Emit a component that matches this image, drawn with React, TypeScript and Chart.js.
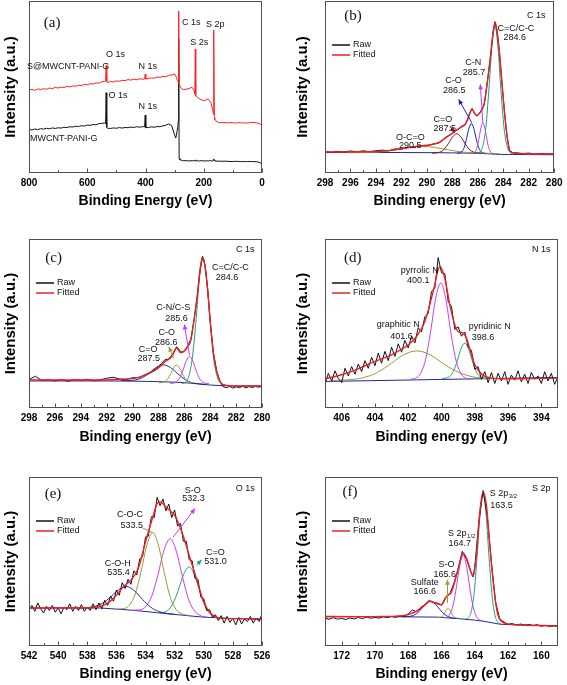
import React, { useEffect, useRef } from "react";
import { Chart, registerables } from "chart.js";
Chart.register(...registerables);

type Pt = [number, number];

// ---------------- (a) survey ----------------
const A_TICKS = [800, 600, 400, 200, 0];
const A_E = [800,790,780,770,760,750,740,730,720,710,700,690,680,670,660,650,640,630,620,610,600,590,580,570,560,550,540,537,535,533,530,520,510,500,490,480,470,460,450,440,430,420,410,403,401,399,390,380,370,360,350,340,330,320,310,300,296,292,289,287.5,286,284.5,282,276,270,260,250,240,235,232,230.5,229,227.5,226,222,215,210,200,190,185,180,175,170,168,166.5,165,163.5,162,158,150,140,130,120,110,100,90,80,70,60,50,40,30,20,10,0];
const A_RED = [48.1,48.6,48.0,48.9,48.5,49.0,48.7,49.4,49.0,49.8,49.4,50.0,49.7,50.3,50.1,50.6,50.4,51.0,50.8,51.5,51.3,51.9,51.7,52.4,52.2,53.0,53.3,
  53.6,62.5,53.0,
  52.6,53.2,52.9,53.6,53.3,53.9,53.7,54.3,54.0,54.6,54.2,54.8,54.5,
  54.7,57.5,54.6,
  55.0,55.3,55.1,55.8,55.6,56.2,56.0,56.8,57.0,57.6,
  56.5,54.5,53.5,53.0,94.2,50.8,50.5,
  49.0,48.5,48.7,49.2,49.8,48.5,47.0,46.0,72.1,45.0,44.6,44.0,43.2,42.6,42.2,42.5,43.2,42.0,40.5,37.0,35.5,34.0,83.1,32.0,31.0,30.3,
  29.4,29.2,29.4,29.1,29.3,29.2,29.0,29.3,29.1,29.2,29.0,29.3,29.4,29.2,28.8,27.8];
const A_BLACK = [25.4,25.0,25.6,25.2,25.8,25.5,26.0,25.7,26.2,25.9,26.3,26.1,26.6,26.4,26.9,26.7,27.2,27.0,27.5,27.3,27.8,27.7,28.2,28.0,28.7,28.9,29.0,
  28.6,46.7,26.5,
  26.0,25.9,26.2,26.0,26.4,26.1,26.5,26.3,26.7,26.5,26.9,26.6,27.0,
  26.8,33.7,26.3,
  26.5,26.8,26.6,27.0,26.9,27.4,27.8,28.5,27.6,22.0,
  20.3,24.0,27.0,30.0,78.0,8.5,7.7,
  7.4,7.1,7.2,7.0,7.2,7.1,7.0,7.2,7.6,7.1,7.0,7.1,7.0,7.2,7.0,7.1,7.0,7.2,7.1,7.0,7.2,7.4,8.2,7.3,7.0,6.9,
  6.9,6.8,6.9,6.8,6.7,6.7,6.8,6.7,6.6,6.7,6.6,6.7,6.6,6.6,6.2,5.4];

// ---------------- (b) C 1s ----------------
const B_TICKS = [298, 296, 294, 292, 290, 288, 286, 284, 282, 280];
const B_FIT_E = [298,296,294,293,292,291,290,289.5,289,288.5,288,287.5,287,286.8,286.6,286.45,286.25,286.05,285.8,285.5,285.25,285.0,284.8,284.65,284.5,284.3,284.1,283.9,283.7,283.5,283.2,283,282,280];
const B_FIT = [12.2,12.3,12.5,13.0,14.1,15.3,16.1,16.7,18.0,20.5,23.1,25.8,28.3,31.0,35.0,37.0,34.8,33.5,35.2,40.0,52.5,68.0,81.6,87.4,83.5,70.0,52.5,35.0,21.5,12.8,11.8,11.5,11.2,11.0];
const B_RAW_E = [298,297.5,297,296.5,296,295.5,295,294.5,294,293.5,293,292.5,292,291.5,291,290.5,290,289.5,289,288.5,288,287.75,287.5,287.25,287,286.8,286.6,286.45,286.25,286.05,285.8,285.5,285.25,285,284.8,284.65,284.5,284.3,284.1,283.9,283.7,283.5,283.2,283,282.5,282,281.5,281,280.5,280];
const B_RAW = [12.4,12.0,12.6,12.2,12.8,12.3,12.9,12.4,12.9,13.3,12.9,14.0,13.8,15.0,14.9,16.0,15.8,16.9,17.6,20.9,22.8,24.8,25.5,27.4,28.0,31.4,35.4,37.6,34.4,33.0,35.6,39.6,53.0,67.5,82.0,88.0,83.0,70.5,52.0,35.5,21.0,13.2,11.5,11.8,11.2,11.6,11.0,11.4,11.1,11.3];
const B_BG: Pt[] = [[298,12.0],[292,11.9],[289,11.8],[288,11.7],[287,11.6],[286.5,11.5],[286,11.4],[285.5,11.3],[285,11.1],[284.6,10.9],[284.2,10.8],[283.5,10.8],[282,10.7],[280,10.6]];
const B_CC: Pt[] = [[286.08,11.35],[285.84,12.2],[285.6,15.8],[285.36,26.7],[285.13,48.2],[284.89,73.3],[284.65,85.0],[284.41,73.2],[284.18,48.0],[283.94,26.5],[283.7,15.6],[283.46,12.0],[283.23,11.15]];
const B_CN: Pt[] = [[286.5,11.24],[286.35,11.44],[286.2,12.3],[286.05,15.0],[285.9,20.2],[285.75,26.3],[285.6,29.2],[285.45,26.3],[285.3,20.2],[285.15,15.0],[285.0,12.3],[284.85,11.4],[284.7,11.2]];
const B_CO: Pt[] = [[287.63,11.45],[287.44,11.63],[287.25,12.5],[287.06,15.0],[286.88,20.05],[286.69,25.95],[286.5,28.7],[286.31,25.95],[286.13,20.05],[285.94,15.0],[285.75,12.5],[285.56,11.6],[285.38,11.4]];
const B_CDO: Pt[] = [[289.6,11.52],[289.28,11.65],[288.95,12.2],[288.63,13.87],[288.3,17.15],[287.98,21.0],[287.65,22.8],[287.33,21.0],[287.0,17.15],[286.68,13.87],[286.35,12.2],[286.03,11.65],[285.7,11.5]];
const B_OCO: Pt[] = [[296.3,11.8],[295.3,11.85],[294.3,12.0],[293.3,12.55],[292.3,13.6],[291.3,14.85],[290.3,15.4],[289.3,14.75],[288.3,13.4],[287.3,12.3],[286.3,11.7],[285.3,11.5],[284.3,11.2]];

// ---------------- (c) C 1s ----------------
const C_FIT_E = [298,292,291,290,289,288.5,288,287.5,287,286.75,286.6,286.3,286,285.75,285.5,285.25,285,284.8,284.6,284.4,284.2,284,283.75,283.5,283.25,283,282,280];
const C_FIT = [16.6,16.6,17.0,17.4,19.4,21.3,23.7,27.3,30.2,33.6,35.6,32.8,33.6,36.2,40.1,52.0,66.0,81.0,89.3,84.0,70.0,51.0,32.0,21.5,16.0,13.8,13.0,13.0];
const C_RAW_E = [298,297.5,297,296.5,296,295.5,295,294.5,294,293.5,293,292.5,292,291.5,291,290.5,290,289.5,289,288.5,288,287.75,287.5,287.25,287,286.75,286.6,286.45,286.3,286.1,285.9,285.75,285.5,285.25,285,284.8,284.6,284.4,284.2,284,283.75,283.5,283.25,283,282.75,282.5,282.25,282,281.75,281.5,281.25,281,280.75,280.5,280.25,280];
const C_RAW = [16.8,18.8,16.2,16.8,16.0,16.9,15.8,16.9,16.3,17.0,16.1,16.6,17.6,18.2,17.1,16.9,17.9,18.0,19.8,21.6,24.5,26.5,28.5,28.9,30.8,34.0,36.2,35.2,33.1,33.3,34.9,36.6,40.5,52.3,66.5,81.0,89.8,84.2,70.5,51.5,32.5,22.0,15.8,12.6,12.0,12.8,11.8,12.6,12.0,12.9,11.9,12.7,12.1,12.8,12.3,12.9];
const C_BG: Pt[] = [[298,16.0],[292,16.0],[290,15.9],[288,15.6],[286.5,15.2],[285.5,14.7],[285,14.3],[284.5,13.9],[284,13.6],[283,13.2],[282,13.0],[280,13.0]];
const C_CC: Pt[] = [[286.2,14.35],[285.93,15.2],[285.65,18.9],[285.38,29.8],[285.1,51.45],[284.83,76.9],[284.55,88.6],[284.28,76.3],[284.0,50.85],[283.73,29.2],[283.45,18.3],[283.18,14.6],[282.9,13.75]];
const C_CN: Pt[] = [[287.1,14.55],[286.85,14.7],[286.6,15.5],[286.35,17.86],[286.1,22.5],[285.85,27.96],[285.6,30.5],[285.35,27.9],[285.1,22.4],[284.85,17.8],[284.6,15.4],[284.35,14.6],[284.1,14.4]];
const C_CO: Pt[] = [[287.95,15.0],[287.73,15.15],[287.5,15.65],[287.28,17.2],[287.05,20.25],[286.83,23.8],[286.6,25.5],[286.38,23.8],[286.15,20.25],[285.93,17.2],[285.7,15.6],[285.48,15.1],[285.25,14.9]];
const C_CDO: Pt[] = [[290.9,16.22],[290.35,16.23],[289.8,16.6],[289.25,17.9],[288.7,20.75],[288.15,24.05],[287.6,25.5],[287.05,23.8],[286.5,20.2],[285.95,16.9],[285.4,14.9],[284.85,14.3],[284.3,13.9]];

// ---------------- (d) N 1s ----------------
const D_TICKS = [406, 404, 402, 400, 398, 396, 394];
const D_FIT_E = [407,406,405,404,403,402,401.5,401,400.5,400.1,399.8,399.5,399.2,399,398.7,398.5,398.2,398,397.5,397,396,393];
const D_FIT = [17.3,19.7,23.2,27.6,31.5,37.4,42.3,51.2,68.9,83.7,76.8,61.0,49.2,45.3,44.3,41.3,31.5,25.6,19.3,17.7,17.3,17.7];
const D_RAW_E = [407,406.8,406.6,406.4,406.2,406,405.8,405.6,405.4,405.2,405,404.8,404.6,404.4,404.2,404,403.8,403.6,403.4,403.2,403,402.8,402.6,402.4,402.2,402,401.8,401.6,401.4,401.2,401,400.8,400.6,400.4,400.2,400,399.8,399.6,399.4,399.2,399,398.8,398.6,398.4,398.2,398,397.8,397.6,397.4,397.2,397,396.8,396.6,396.4,396.2,396,395.8,395.6,395.4,395.2,395,394.8,394.6,394.4,394.2,394,393.8,393.6,393.4,393.2,393];
const D_RAW = [14.0,20.5,16.0,22.0,17.5,15.0,23.5,19.0,24.5,20.0,26.0,21.5,28.0,23.5,30.0,25.0,32.5,26.5,33.5,28.0,36.0,30.5,38.0,33.0,40.0,35.5,42.5,38.5,47.5,45.0,54.0,56.0,69.0,71.0,89.0,80.0,79.5,63.0,60.0,46.5,48.0,42.5,45.0,36.0,34.0,23.0,24.5,17.0,21.5,15.0,21.0,14.5,20.5,16.0,21.5,14.0,19.5,16.5,22.0,15.5,20.0,14.5,21.0,17.0,19.0,14.5,21.5,16.0,20.5,14.0,18.5];
const D_BG: Pt[] = [[407,15.7],[393,18.1]];
const D_PYRR: Pt[] = [[401.85,17.1],[401.55,17.7],[401.25,20.55],[400.95,28.95],[400.65,45.5],[400.35,64.9],[400.05,74.0],[399.75,64.9],[399.45,45.5],[399.15,29.0],[398.85,20.6],[398.55,17.8],[398.25,17.2]];
const D_GRAPH: Pt[] = [[406.6,16.33],[405.75,16.6],[404.9,17.5],[404.05,20.1],[403.2,25.1],[402.35,31.1],[401.5,33.8],[400.65,31.3],[399.8,25.6],[398.95,21.0],[398.1,18.4],[397.25,17.6],[396.4,17.4]];
const D_PYRI: Pt[] = [[399.95,17.44],[399.73,17.68],[399.5,18.7],[399.28,21.8],[399.05,27.9],[398.83,35.06],[398.6,38.4],[398.38,35.06],[398.15,27.9],[397.93,21.8],[397.7,18.7],[397.48,17.7],[397.25,17.45]];

// ---------------- (e) O 1s ----------------
const E_TICKS = [542, 540, 538, 536, 534, 532, 530, 528, 526];
const E_FIT_E = [542,538,537,536.5,536,535.5,535,534.5,534,533.5,533.2,533,532.5,532,531.5,531,530.5,530,529.5,529,528,526];
const E_FIT = [22.5,22.6,23.7,26.0,30.0,35.3,38.9,45.8,61.5,76.3,84.2,85.2,81.3,77.3,67.5,53.6,39.8,26.0,19.1,16.8,16.2,16.2];
const E_RAW_E = [542,541.8,541.6,541.4,541.2,541,540.8,540.6,540.4,540.2,540,539.8,539.6,539.4,539.2,539,538.8,538.6,538.4,538.2,538,537.8,537.6,537.4,537.2,537,536.8,536.6,536.4,536.2,536,535.8,535.6,535.4,535.2,535,534.8,534.6,534.4,534.2,534,533.8,533.6,533.4,533.2,533,532.8,532.6,532.4,532.2,532,531.8,531.6,531.4,531.2,531,530.8,530.6,530.4,530.2,530,529.8,529.6,529.4,529.2,529,528.8,528.6,528.4,528.2,528,527.8,527.6,527.4,527.2,527,526.8,526.6,526.4,526.2,526];
const E_RAW = [21.0,24.0,20.5,25.5,22.0,19.5,23.5,21.0,24.0,20.0,22.5,19.0,23.0,21.5,25.0,20.5,23.5,21.0,24.5,20.5,23.0,21.0,25.0,21.5,25.5,22.0,27.0,24.0,29.5,26.5,33.0,30.0,37.5,34.0,39.5,36.5,44.5,42.0,51.5,53.0,64.5,65.0,76.5,76.0,88.0,83.0,87.0,80.0,84.0,76.0,80.5,71.0,72.5,62.0,62.0,51.0,50.5,40.0,39.5,29.0,28.0,21.0,21.5,17.0,18.5,15.0,18.0,13.5,17.5,14.0,16.5,12.5,17.0,13.0,16.0,14.5,17.5,13.5,16.5,14.5,19.0];
const E_BG: Pt[] = [[542,22.5],[537.1,22.5],[534.8,21.1],[532.5,19.1],[530.2,17.2],[528,16.2],[526,15.8]];
const E_COH: Pt[] = [[538.6,22.53],[538.05,22.68],[537.5,23.36],[536.95,25.3],[536.4,29.0],[535.85,33.3],[535.3,35.2],[534.75,32.6],[534.2,27.5],[533.65,23.0],[533.1,20.46],[532.55,19.28],[532.0,18.73]];
const E_COC: Pt[] = [[535.9,21.9],[535.5,22.1],[535.1,24.2],[534.7,30.9],[534.3,44.2],[533.9,59.9],[533.5,67.1],[533.1,59.2],[532.7,42.9],[532.3,28.9],[531.9,21.6],[531.5,19.0],[531.1,18.2]];
const E_SO: Pt[] = [[534.85,21.2],[534.43,21.3],[534.0,23.2],[533.58,29.35],[533.15,41.95],[532.73,56.7],[532.3,63.5],[531.88,56.0],[531.45,40.55],[531.03,27.25],[530.6,20.4],[530.18,17.8],[529.75,17.0]];
const E_CO: Pt[] = [[533.25,19.86],[532.88,19.8],[532.5,20.9],[532.13,24.9],[531.75,32.9],[531.38,42.5],[531.0,46.8],[530.63,41.9],[530.25,31.7],[529.88,23.0],[529.5,18.5],[529.13,16.9],[528.75,16.36]];

// ---------------- (f) S 2p ----------------
const F_TICKS = [172, 170, 168, 166, 164, 162, 160];
const F_FIT_E = [173,170,168.5,168,167.5,167,166.7,166.3,166,165.7,165.4,165.2,165,164.7,164.5,164.2,164.1,163.9,163.7,163.5,163.3,163.1,162.9,162.7,162.5,162,161,159];
const F_FIT = [17.3,17.4,17.8,18.6,20.6,24.1,26.5,25.1,24.5,29.4,32.0,38.2,45.1,54.9,52.0,43.1,41.2,53.9,79.4,91.2,83.3,59.8,38.2,22.5,15.7,13.1,12.4,11.8];
const F_RAW_E = [173,172.75,172.5,172.25,172,171.75,171.5,171.25,171,170.75,170.5,170.25,170,169.75,169.5,169.25,169,168.75,168.5,168.25,168,167.75,167.5,167.25,167,166.75,166.5,166.25,166,165.75,165.5,165.25,165,164.75,164.5,164.25,164.1,164,163.75,163.5,163.25,163,162.75,162.5,162.25,162,161.75,161.5,161.25,161,160.75,160.5,160.25,160,159.75,159.5,159.25,159];
const F_RAW = [16.5,15.8,16.8,15.9,16.3,15.7,16.6,16.0,16.9,16.2,17.1,16.4,16.9,16.5,17.3,16.8,17.5,17.0,17.8,17.6,19.0,21.3,20.2,22.8,24.5,26.9,25.6,25.4,24.1,29.0,30.8,37.2,45.8,56.0,51.5,44.0,40.8,47.0,73.8,92.0,76.8,49.5,26.0,16.0,14.2,12.8,13.3,12.4,13.0,12.2,12.8,12.0,12.6,11.6,12.3,11.5,12.1,11.7];
const F_BG: Pt[] = [[173,17.6],[166.3,17.1],[165,16.2],[164,15.3],[163.5,14.7],[162.5,12.9],[161,12.3],[159,12.0]];
const F_S32: Pt[] = [[164.58,15.95],[164.4,16.6],[164.22,20.1],[164.04,31.2],[163.86,52.85],[163.68,78.4],[163.5,90.2],[163.32,77.8],[163.14,51.75],[162.96,29.5],[162.78,18.0],[162.6,13.9],[162.42,12.85]];
const F_S12: Pt[] = [[165.9,16.8],[165.7,17.0],[165.5,18.8],[165.3,24.3],[165.1,35.1],[164.9,47.9],[164.7,53.7],[164.5,47.5],[164.3,34.3],[164.1,23.2],[163.9,17.4],[163.7,15.4],[163.5,14.8]];
const F_SO: Pt[] = [[166.2,16.9],[166.1,16.95],[166.0,17.2],[165.9,18.0],[165.8,19.55],[165.7,21.4],[165.6,22.3],[165.5,21.3],[165.4,19.45],[165.3,17.8],[165.2,16.9],[165.1,16.6],[165.0,16.4]];
const F_SULF: Pt[] = [[168.3,17.3],[168.03,17.4],[167.75,17.9],[167.48,19.3],[167.2,22.0],[166.93,25.2],[166.65,26.5],[166.38,24.9],[166.1,21.6],[165.83,18.8],[165.55,17.2],[165.28,16.5],[165.0,16.2]];

// ---------------- styling ----------------
const SANS = '"Liberation Sans", Arial, Helvetica, sans-serif';
const SERIF = '"Liberation Serif", "Times New Roman", serif';
const RED = "#ee1f26";
const BLACK = "#111111";
const NAVY = "#25259a";
const GREEN = "#1d9f7c";
const MAGENTA = "#c43cf2";
const OLIVE = "#8f9d36";
const BLUE = "#1c1cc8";
const MAROON = "#7d1026";

type Ann = { text: string; x: number; y: number; sub?: string; serif?: boolean };
type Arrow = { from: Pt; to: Pt; color: string; head: boolean };
type Ser = { pts: Pt[]; color: string; width: number; smooth: boolean };
type PanelCfg = {
  key: string; left: number; top: number; width: number; height: number;
  padTop: number; padBottom: number; padRight: number; yW: number; yTitlePad: number;
  axisH: number; xTitlePad: number; min: number; max: number; ticks: number[]; minorStep: number;
  xTitle: string; series: Ser[]; anns: Ann[]; arrows: Arrow[]; legend: boolean;
};

const zip = (e: number[], v: number[]): Pt[] => e.map((x, i) => [x, v[i]] as Pt);
const comp = (pts: Pt[], color: string): Ser => ({ pts, color, width: 1, smooth: true });
const fitS = (e: number[], v: number[]): Ser => ({ pts: zip(e, v), color: RED, width: 1.4, smooth: true });
const rawS = (e: number[], v: number[]): Ser => ({ pts: zip(e, v), color: BLACK, width: 1, smooth: false });

const ROW = [
  { top: 0, height: 225, padTop: 1, axisH: 40, padBottom: 12, xTitlePad: 3 },
  { top: 225, height: 230, padTop: 14, axisH: 40, padBottom: 7, xTitlePad: 2 },
  { top: 455, height: 230, padTop: 22, axisH: 39, padBottom: 0, xTitlePad: 2.5 },
];
const COL = [
  { left: 0, width: 283, yW: 29, padRight: 21, yTitlePad: 2 },
  { left: 283, width: 284, yW: 42, padRight: 9, yTitlePad: 11 },
];

const PANELS: PanelCfg[] = [
  {
    key: "a", ...ROW[0], ...COL[0], min: 0, max: 800, ticks: A_TICKS, minorStep: 100,
    xTitle: "Binding Energy (eV)", legend: false,
    series: [
      { pts: zip(A_E, A_RED), color: "#ff1f1f", width: 1, smooth: false },
      { pts: zip(A_E, A_BLACK), color: BLACK, width: 1, smooth: false },
    ],
    anns: [
      { text: "(a)", x: 720.8, y: 86.9, serif: true },
      { text: "C 1s", x: 243.3, y: 87.5 },
      { text: "S 2p", x: 160.7, y: 86.2 },
      { text: "S 2s", x: 215.8, y: 76 },
      { text: "O 1s", x: 502.7, y: 68.7 },
      { text: "N 1s", x: 392.5, y: 61.9 },
      { text: "S@MWCNT-PANI-G", x: 665.7, y: 62.1 },
      { text: "O 1s", x: 494.7, y: 45.2 },
      { text: "N 1s", x: 392.5, y: 38.5 },
      { text: "MWCNT-PANI-G", x: 680.6, y: 20.2 },
    ],
    arrows: [],
  },
  {
    key: "b", ...ROW[0], ...COL[1], min: 280, max: 298, ticks: B_TICKS, minorStep: 1,
    xTitle: "Binding energy (eV)", legend: true,
    series: [
      fitS(B_FIT_E, B_FIT), rawS(B_RAW_E, B_RAW),
      comp(B_CC, GREEN), comp(B_CN, MAGENTA), comp(B_CO, BLUE), comp(B_CDO, MAROON), comp(B_OCO, OLIVE),
      { pts: B_BG, color: NAVY, width: 1, smooth: false },
    ],
    anns: [
      { text: "(b)", x: 295.8, y: 91.3, serif: true },
      { text: "C 1s", x: 281.4, y: 91.3 },
      { text: "C=C/C-C", x: 283.0, y: 84.1 }, { text: "284.6", x: 283.1, y: 78.7 },
      { text: "C-N", x: 286.35, y: 64.5 }, { text: "285.7", x: 286.3, y: 58.7 },
      { text: "C-O", x: 287.9, y: 53.5 }, { text: "286.5", x: 287.85, y: 48.1 },
      { text: "C=O", x: 288.75, y: 31.2 }, { text: "287.5", x: 288.6, y: 26 },
      { text: "O-C=O", x: 291.3, y: 20.9 }, { text: "290.5", x: 291.3, y: 15.7 },
    ],
    arrows: [
      { from: [288.2, 27.3], to: [287.83, 23.4], color: MAROON, head: true },
      { from: [286.47, 29.2], to: [287.5, 42.8], color: BLUE, head: true },
      { from: [285.6, 29.2], to: [285.8, 51.6], color: MAGENTA, head: true },
    ],
  },
  {
    key: "c", ...ROW[1], ...COL[0], min: 280, max: 298, ticks: B_TICKS, minorStep: 1,
    xTitle: "Binding energy (eV)", legend: true,
    series: [
      fitS(C_FIT_E, C_FIT), rawS(C_RAW_E, C_RAW),
      comp(C_CC, GREEN), comp(C_CN, MAGENTA), comp(C_CO, OLIVE), comp(C_CDO, NAVY),
      { pts: C_BG, color: NAVY, width: 1, smooth: false },
    ],
    anns: [
      { text: "(c)", x: 296.1, y: 88.9, serif: true },
      { text: "C 1s", x: 281.3, y: 93.5 },
      { text: "C=C/C-C", x: 282.45, y: 83 }, { text: "284.6", x: 282.7, y: 77.1 },
      { text: "C-N/C-S", x: 286.85, y: 59.5 }, { text: "285.6", x: 286.6, y: 53 },
      { text: "C-O", x: 287.35, y: 44.7 }, { text: "286.6", x: 287.4, y: 38.7 },
      { text: "C=O", x: 288.8, y: 34.8 }, { text: "287.5", x: 288.75, y: 29.2 },
    ],
    arrows: [
      { from: [286.8, 29.2], to: [287.2, 36.2], color: OLIVE, head: true },
      { from: [285.6, 31.2], to: [286.0, 49.4], color: MAGENTA, head: true },
    ],
  },
  {
    key: "d", ...ROW[1], ...COL[1], min: 393, max: 407, ticks: D_TICKS, minorStep: 1,
    xTitle: "Binding energy (eV)", legend: true,
    series: [
      fitS(D_FIT_E, D_FIT), rawS(D_RAW_E, D_RAW),
      comp(D_PYRR, MAGENTA), comp(D_GRAPH, OLIVE), comp(D_PYRI, GREEN),
      { pts: D_BG, color: NAVY, width: 1, smooth: false },
    ],
    anns: [
      { text: "(d)", x: 405.34, y: 89, serif: true },
      { text: "N 1s", x: 394, y: 93.5 },
      { text: "pyrrolic N", x: 401.3, y: 81.3 }, { text: "400.1", x: 401.4, y: 75.2 },
      { text: "graphitic N", x: 402.6, y: 49.2 }, { text: "401.6", x: 402.4, y: 42.3 },
      { text: "pyridinic N", x: 397.1, y: 48.2 }, { text: "398.6", x: 397.5, y: 41.7 },
    ],
    arrows: [],
  },
  {
    key: "e", ...ROW[2], ...COL[0], min: 526, max: 542, ticks: E_TICKS, minorStep: 1,
    xTitle: "Binding energy (eV)", legend: true,
    series: [
      fitS(E_FIT_E, E_FIT), rawS(E_RAW_E, E_RAW),
      comp(E_COH, NAVY), comp(E_COC, OLIVE), comp(E_SO, MAGENTA), comp(E_CO, GREEN),
      { pts: E_BG, color: NAVY, width: 1, smooth: false },
    ],
    anns: [
      { text: "(e)", x: 540.35, y: 90.1, serif: true },
      { text: "O 1s", x: 527.15, y: 93.1 },
      { text: "C-O-C", x: 535.07, y: 77.7 }, { text: "533.5", x: 534.95, y: 71.4 },
      { text: "S-O", x: 530.75, y: 92.1 }, { text: "532.3", x: 530.7, y: 87.2 },
      { text: "C=O", x: 529.2, y: 55.6 }, { text: "531.0", x: 529.2, y: 50.1 },
      { text: "C-O-H", x: 535.9, y: 48.7 }, { text: "535.4", x: 535.85, y: 43.4 },
    ],
    arrows: [
      { from: [532.1, 64.5], to: [530.6, 81.3], color: MAGENTA, head: true },
      { from: [530.5, 47.7], to: [530.15, 51.0], color: GREEN, head: true },
      { from: [534.2, 69.8], to: [533.5, 67.1], color: OLIVE, head: false },
    ],
  },
  {
    key: "f", ...ROW[2], ...COL[1], min: 159, max: 173, ticks: F_TICKS, minorStep: 1,
    xTitle: "Binding energy (eV)", legend: true,
    series: [
      fitS(F_FIT_E, F_FIT), rawS(F_RAW_E, F_RAW),
      comp(F_S32, GREEN), comp(F_S12, MAGENTA), comp(F_SO, OLIVE), comp(F_SULF, NAVY),
      { pts: F_BG, color: NAVY, width: 1, smooth: false },
    ],
    anns: [
      { text: "(f)", x: 171.5, y: 91.2, serif: true },
      { text: "S 2p", x: 160.0, y: 93.1 },
      { text: "S 2p", sub: "3/2", x: 162.3, y: 90.2 }, { text: "163.5", x: 162.4, y: 83.3 },
      { text: "S 2p", sub: "1/2", x: 164.8, y: 66.7 }, { text: "164.7", x: 164.9, y: 60.8 },
      { text: "S-O", x: 165.7, y: 48 }, { text: "165.6", x: 165.8, y: 42.5 },
      { text: "Sulfate", x: 167.0, y: 37.3 }, { text: "166.6", x: 167.0, y: 32.4 },
    ],
    arrows: [
      { from: [165.64, 25.5], to: [165.64, 39.2], color: OLIVE, head: true },
    ],
  },
];

function decor(p: PanelCfg) {
  return {
    id: "decor_" + p.key,
    afterDatasetsDraw(chart: any) {
      const { ctx, chartArea: a, scales } = chart;
      const xs = scales.x, ys = scales.y;
      const X = (v: number) => xs.getPixelForValue(v);
      const Y = (v: number) => ys.getPixelForValue(v);
      ctx.save();
      // frame
      ctx.strokeStyle = "#505050";
      ctx.lineWidth = 1;
      ctx.strokeRect(Math.round(a.left) + 0.5, Math.round(a.top) + 0.5, Math.round(a.right - a.left) - 1, Math.round(a.bottom - a.top) - 1);
      // inward ticks
      const bot = Math.round(a.bottom) - 0.5;
      ctx.beginPath();
      const majors = new Set(p.ticks);
      for (const t of p.ticks) {
        const x = Math.round(X(t)) + 0.5;
        ctx.moveTo(x, bot); ctx.lineTo(x, bot - 4);
      }
      for (const t of p.ticks) {
        for (const m of [t - p.minorStep, t + p.minorStep]) {
          if (m > p.min && m < p.max && !majors.has(m)) {
            const x = Math.round(X(m)) + 0.5;
            ctx.moveTo(x, bot); ctx.lineTo(x, bot - 2.5);
          }
        }
      }
      ctx.stroke();
      // annotations
      ctx.textBaseline = "middle";
      for (const an of p.anns) {
        const x = X(an.x), y = Y(an.y);
        ctx.fillStyle = "#111";
        const main = an.serif ? `15px ${SERIF}` : `9px ${SANS}`;
        if (an.sub) {
          ctx.font = main;
          const w1 = ctx.measureText(an.text).width;
          const subF = `6px ${SANS}`;
          ctx.font = subF;
          const w2 = ctx.measureText(an.sub).width;
          const x0 = x - (w1 + w2) / 2;
          ctx.textAlign = "left";
          ctx.font = main;
          ctx.fillText(an.text, x0, y);
          ctx.font = subF;
          ctx.fillText(an.sub, x0 + w1 + 0.5, y + 3);
        } else {
          ctx.font = main;
          ctx.textAlign = "center";
          ctx.fillText(an.text, x, y);
        }
      }
      // arrows
      for (const ar of p.arrows) {
        const x1 = X(ar.from[0]), y1 = Y(ar.from[1]);
        const x2 = X(ar.to[0]), y2 = Y(ar.to[1]);
        ctx.strokeStyle = ar.color;
        ctx.fillStyle = ar.color;
        ctx.lineWidth = 1;
        ctx.beginPath(); ctx.moveTo(x1, y1); ctx.lineTo(x2, y2); ctx.stroke();
        if (ar.head) {
          const ang = Math.atan2(y2 - y1, x2 - x1);
          const L = 5, Wd = 2.4;
          ctx.beginPath();
          ctx.moveTo(x2, y2);
          ctx.lineTo(x2 - L * Math.cos(ang) + Wd * Math.sin(ang), y2 - L * Math.sin(ang) - Wd * Math.cos(ang));
          ctx.lineTo(x2 - L * Math.cos(ang) - Wd * Math.sin(ang), y2 - L * Math.sin(ang) + Wd * Math.cos(ang));
          ctx.closePath();
          ctx.fill();
        }
      }
      // legend
      if (p.legend) {
        const lx = a.left + 7;
        const rows: [string, string][] = [["Raw", BLACK], ["Fitted", RED]];
        rows.forEach(([t, c], i) => {
          const ly = a.top + 44 + i * 10;
          ctx.strokeStyle = c; ctx.lineWidth = 1.5;
          ctx.beginPath(); ctx.moveTo(lx, ly); ctx.lineTo(lx + 18, ly); ctx.stroke();
          ctx.fillStyle = "#111"; ctx.font = `9px ${SANS}`; ctx.textAlign = "left";
          ctx.fillText(t, lx + 21, ly);
        });
      }
      ctx.restore();
    },
  };
}

function buildConfig(p: PanelCfg): any {
  return {
    type: "line",
    data: {
      datasets: p.series.map((s, i) => ({
        label: "s" + i,
        data: s.pts.map(([x, y]) => ({ x, y })),
        borderColor: s.color,
        backgroundColor: s.color,
        borderWidth: s.width,
        pointRadius: 0,
        fill: false,
        tension: 0,
        cubicInterpolationMode: s.smooth ? "monotone" : "default",
      })),
    },
    options: {
      responsive: false,
      animation: false,
      devicePixelRatio: 1,
      layout: { padding: { left: 0, right: p.padRight, top: p.padTop, bottom: p.padBottom } },
      plugins: { legend: { display: false }, tooltip: { enabled: false } },
      scales: {
        x: {
          type: "linear", min: p.min, max: p.max, reverse: true,
          grid: { display: false, drawTicks: false, tickLength: 0 }, border: { display: false },
          ticks: { font: { family: SANS, size: 10, weight: "bold" }, color: "#000", padding: 4.5, maxRotation: 0, autoSkip: false, includeBounds: false },
          afterBuildTicks: (s: any) => { s.ticks = p.ticks.map((v) => ({ value: v })); },
          afterFit: (s: any) => { s.height = p.axisH; },
          title: { display: true, text: p.xTitle, color: "#000", font: { family: SANS, size: 14, weight: "bold" }, padding: { top: 0, bottom: p.xTitlePad } },
        },
        y: {
          type: "linear", min: 0, max: 100,
          grid: { display: false, drawTicks: false }, border: { display: false },
          ticks: { display: false },
          afterFit: (s: any) => { s.width = p.yW; },
          title: { display: true, text: "Intensity (a.u.)", color: "#000", font: { family: SANS, size: 15, weight: "bold" }, padding: { top: p.yTitlePad, bottom: 0 } },
        },
      },
    },
    plugins: [decor(p)],
  };
}

function PanelChart({ p }: { p: PanelCfg }) {
  const ref = useRef<HTMLCanvasElement>(null);
  useEffect(() => {
    const c = ref.current;
    if (!c) return;
    const chart = new Chart(c, buildConfig(p));
    return () => chart.destroy();
  }, [p]);
  return (
    <canvas
      ref={ref}
      width={p.width}
      height={p.height}
      style={{ position: "absolute", left: p.left, top: p.top, width: p.width, height: p.height }}
    />
  );
}

export default function App() {
  return (
    <div style={{ position: "fixed", left: 0, top: 0, width: 567, height: 685, background: "#fff", overflow: "hidden" }}>
      {PANELS.map((p) => <PanelChart key={p.key} p={p} />)}
    </div>
  );
}
